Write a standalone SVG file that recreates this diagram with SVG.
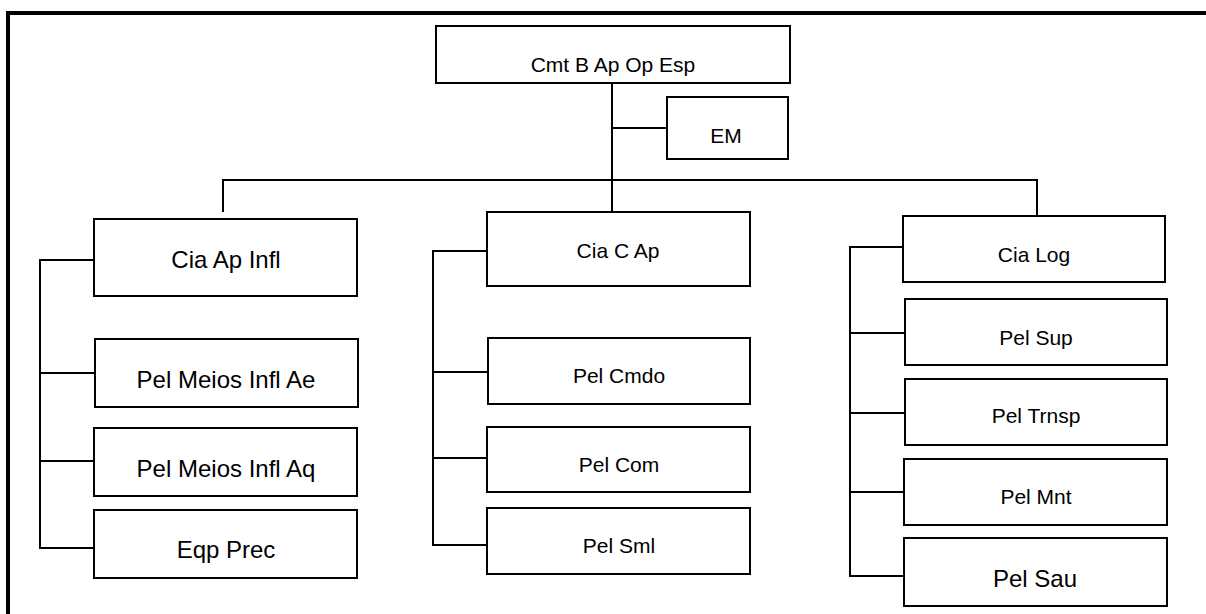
<svg xmlns="http://www.w3.org/2000/svg" width="1206" height="614" viewBox="0 0 1206 614">
<style>
.box{fill:#fff;stroke:#000;stroke-width:2}
.t{font-family:"Liberation Sans",Arial,sans-serif;fill:#000;text-anchor:middle}
.l{font-size:24px}
.s{font-size:21px}
.c{fill:none;stroke:#000;stroke-width:2}
</style>
<rect width="1206" height="614" fill="#fff"/>
<path d="M8,614 V13 H1210" fill="none" stroke="#000" stroke-width="4"/>
<g id="connectors">
<path class="c" d="M612,83 V212"/>
<path class="c" d="M612,128 H667"/>
<path class="c" d="M223,212 V180 H1037 V216"/>
<path class="c" d="M94,260 H40 V548 H94 M40,373 H95 M40,461 H94"/>
<path class="c" d="M487,251 H433 V545 H487 M433,372 H488 M433,458 H487"/>
<path class="c" d="M903,247 H850 V576 H904 M850,333 H905 M850,413 H905 M850,492 H904"/>
</g>
<g id="cmt"><rect class="box" x="436" y="26" width="354" height="57"/><text class="t s" x="613" y="72">Cmt B Ap Op Esp</text></g>
<g id="em"><rect class="box" x="667" y="97" width="121" height="62"/><text class="t s" x="726" y="143">EM</text></g>
<g id="cia-ap-infl"><rect class="box" x="94" y="219" width="263" height="77"/><text class="t l" x="226" y="268">Cia Ap Infl</text></g>
<g id="pel-meios-ae"><rect class="box" x="95" y="339" width="263" height="68"/><text class="t l" x="226" y="388">Pel Meios Infl Ae</text></g>
<g id="pel-meios-aq"><rect class="box" x="94" y="428" width="263" height="68"/><text class="t l" x="226" y="477">Pel Meios Infl Aq</text></g>
<g id="eqp-prec"><rect class="box" x="94" y="510" width="263" height="68"/><text class="t l" x="226" y="558">Eqp Prec</text></g>
<g id="cia-c-ap"><rect class="box" x="487" y="212" width="263" height="74"/><text class="t s" x="618" y="258">Cia C Ap</text></g>
<g id="pel-cmdo"><rect class="box" x="488" y="338" width="262" height="66"/><text class="t s" x="619" y="383">Pel Cmdo</text></g>
<g id="pel-com"><rect class="box" x="487" y="427" width="263" height="65"/><text class="t s" x="619" y="472">Pel Com</text></g>
<g id="pel-sml"><rect class="box" x="487" y="508" width="263" height="66"/><text class="t s" x="619" y="553">Pel Sml</text></g>
<g id="cia-log"><rect class="box" x="903" y="216" width="262" height="66"/><text class="t s" x="1034" y="262">Cia Log</text></g>
<g id="pel-sup"><rect class="box" x="905" y="299" width="262" height="66"/><text class="t s" x="1036" y="345">Pel Sup</text></g>
<g id="pel-trnsp"><rect class="box" x="905" y="379" width="262" height="66"/><text class="t s" x="1036" y="423">Pel Trnsp</text></g>
<g id="pel-mnt"><rect class="box" x="904" y="459" width="263" height="66"/><text class="t s" x="1036" y="504">Pel Mnt</text></g>
<g id="pel-sau"><rect class="box" x="904" y="538" width="263" height="68"/><text class="t l" x="1035" y="587">Pel Sau</text></g>
</svg>
